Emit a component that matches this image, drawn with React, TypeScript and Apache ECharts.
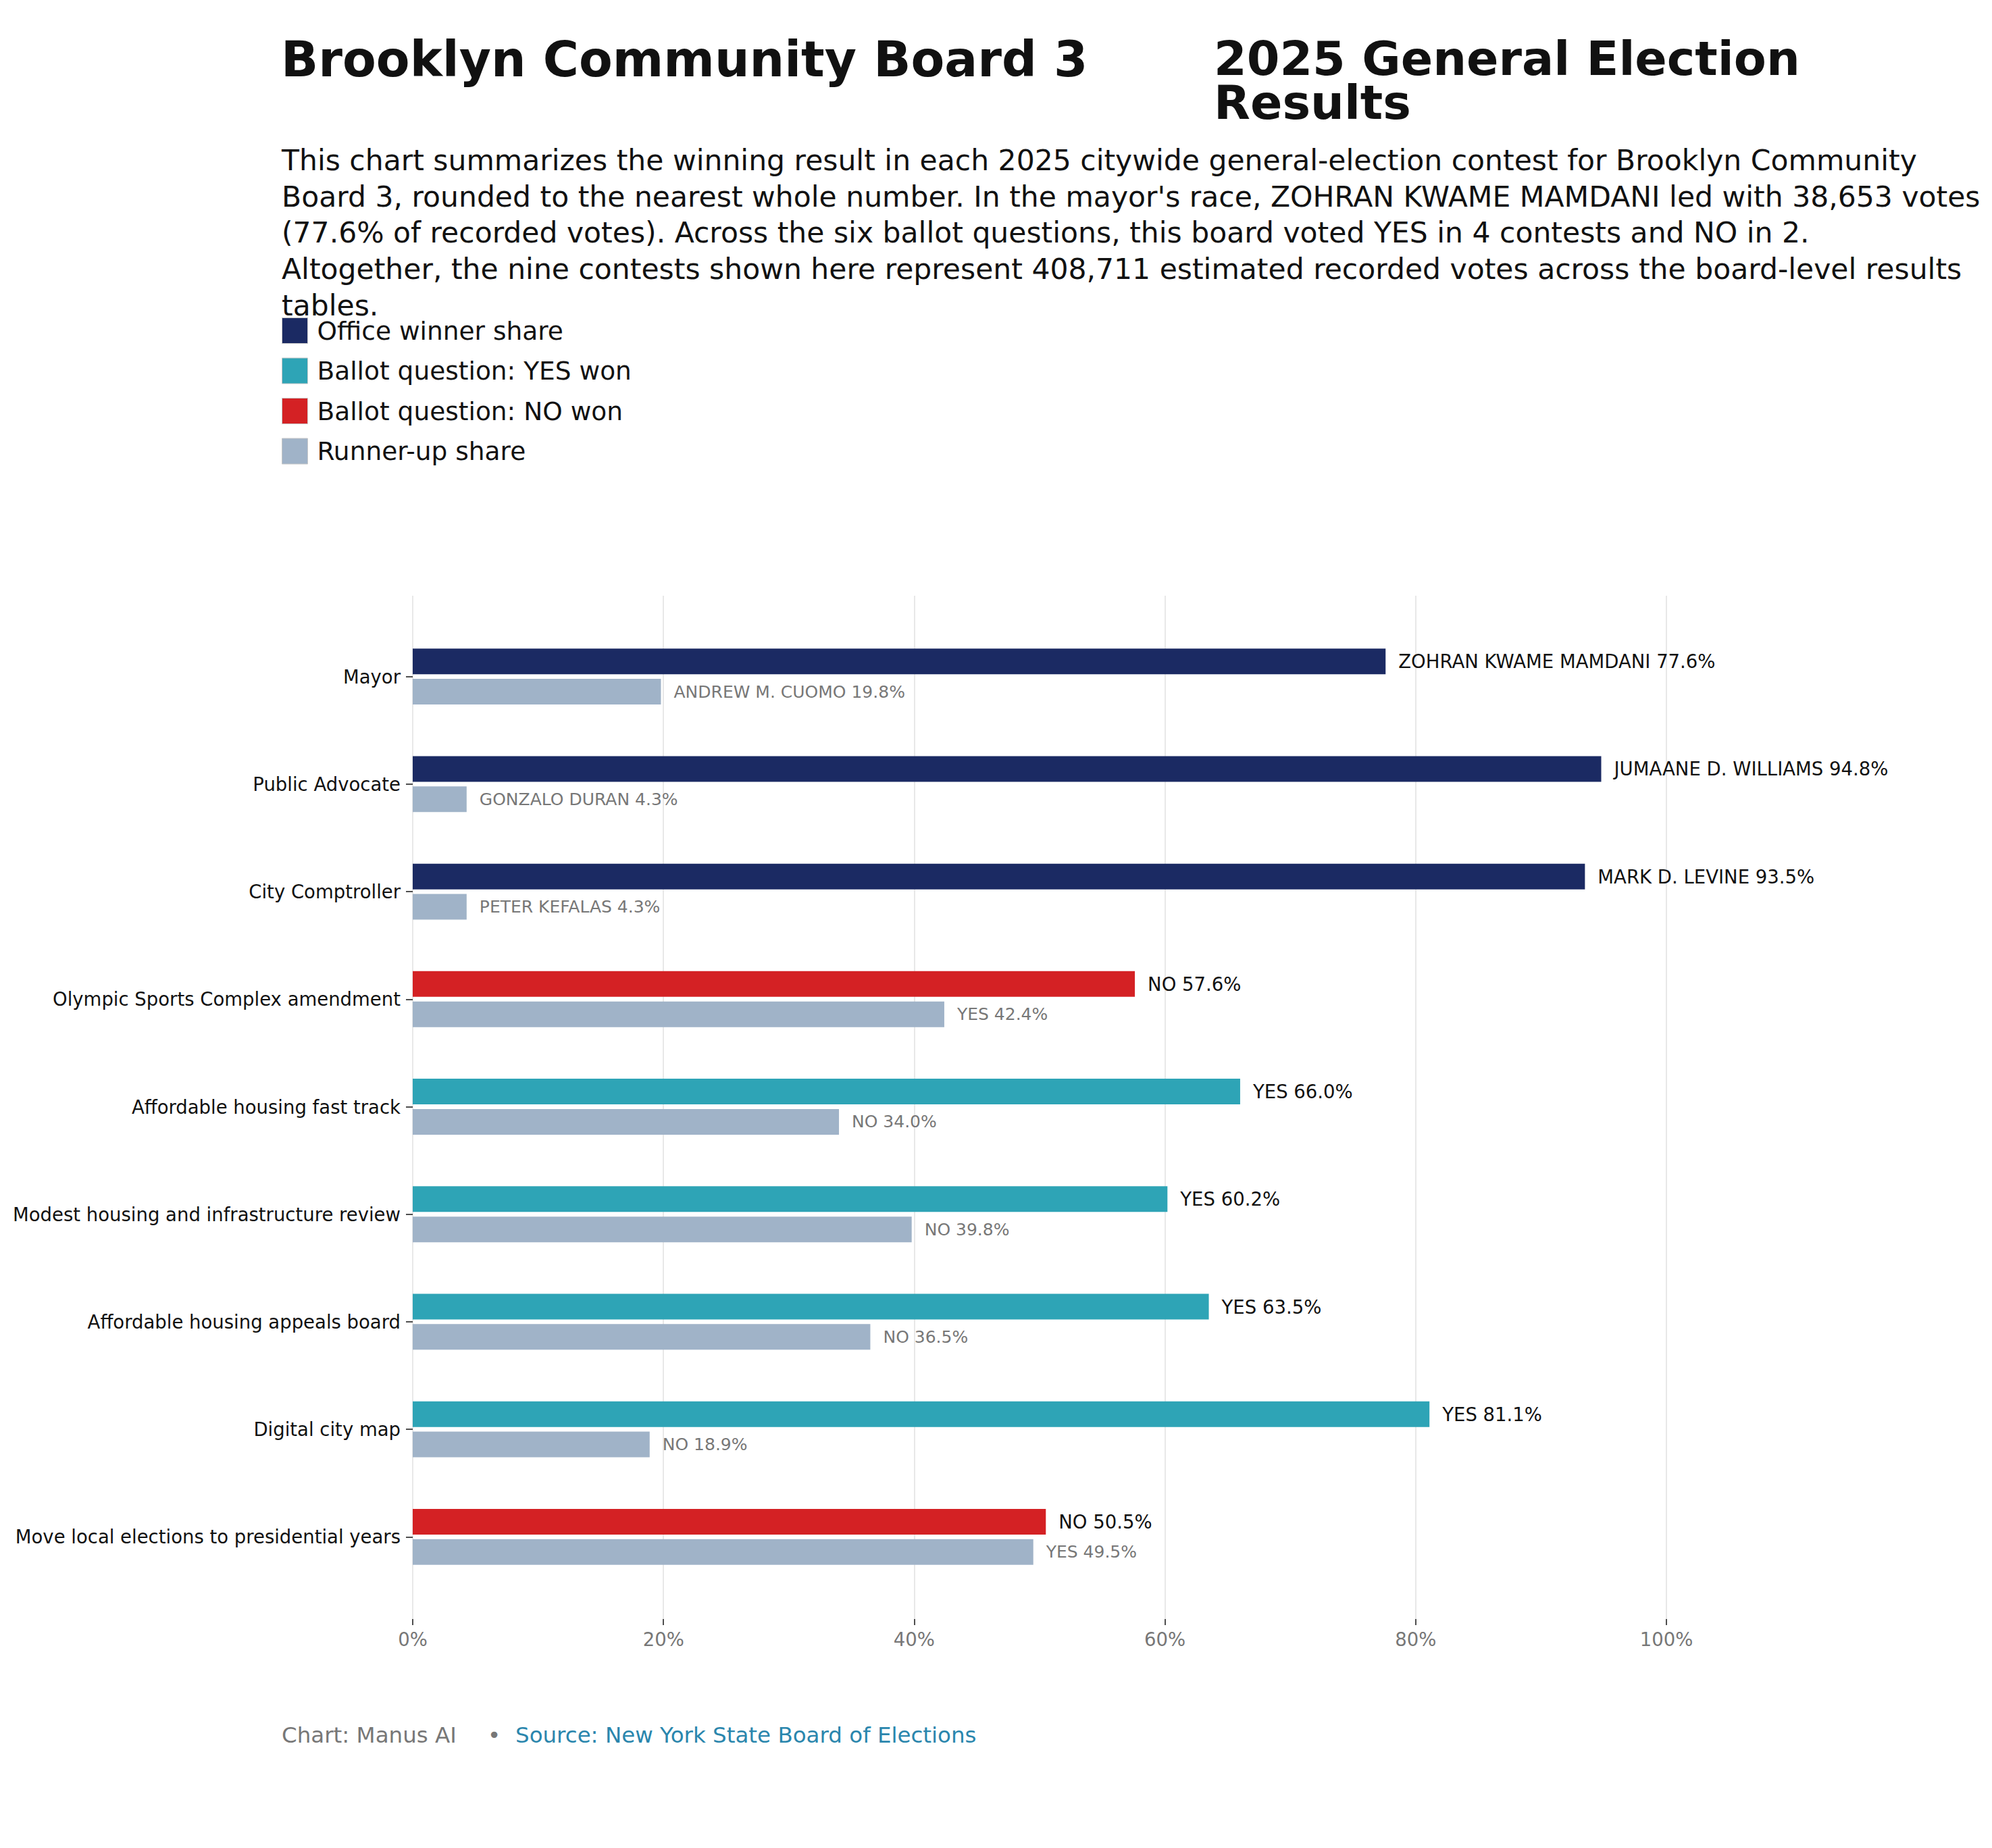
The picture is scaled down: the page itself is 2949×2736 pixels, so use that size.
import { useEffect, useRef } from 'react'
import * as echarts from 'echarts'

const FONT = 'DejaVu Sans'

const contests = [
  'Mayor',
  'Public Advocate',
  'City Comptroller',
  'Olympic Sports Complex amendment',
  'Affordable housing fast track',
  'Modest housing and infrastructure review',
  'Affordable housing appeals board',
  'Digital city map',
  'Move local elections to presidential years',
]
// office = office winner, yes / no = which ballot answer won
const winnerKind = ['office', 'office', 'office', 'no', 'yes', 'yes', 'yes', 'yes', 'no']
const winnerNames = ['ZOHRAN KWAME MAMDANI', 'JUMAANE D. WILLIAMS', 'MARK D. LEVINE', 'NO', 'YES', 'YES', 'YES', 'YES', 'NO']
const winnerShare = [77.6, 94.8, 93.5, 57.6, 66.0, 60.2, 63.5, 81.1, 50.5]
const runnerNames = ['ANDREW M. CUOMO', 'GONZALO DURAN', 'PETER KEFALAS', 'YES', 'NO', 'NO', 'NO', 'NO', 'YES']
const runnerShare = [19.8, 4.3, 4.3, 42.4, 34.0, 39.8, 36.5, 18.9, 49.5]
const xTicks = [0, 20, 40, 60, 80, 100]

const legendNames = ['Office winner share', 'Ballot question: YES won', 'Ballot question: NO won', 'Runner-up share']
const COLORS = { office: '#1b2a63', yes: '#2ea4b6', no: '#d42124', runner: '#a0b3c8' }

const titleLeft = 'Brooklyn Community Board 3'
const titleRight = ['2025 General Election', 'Results']
const subtitleLines = [
  'This chart summarizes the winning result in each 2025 citywide general-election contest for Brooklyn Community',
  "Board 3, rounded to the nearest whole number. In the mayor's race, ZOHRAN KWAME MAMDANI led with 38,653 votes",
  '(77.6% of recorded votes). Across the six ballot questions, this board voted YES in 4 contests and NO in 2.',
  'Altogether, the nine contests shown here represent 408,711 estimated recorded votes across the board-level results',
  'tables.',
]

const W = 2949
const H = 2736
const PLOT_LEFT = 611
const PLOT_WIDTH = 1856

// text placed by its baseline
function textAt(text: string, x: number, baseline: number, size: number, color: string, weight = 'normal') {
  return {
    type: 'text',
    x,
    y: baseline - size * 0.36,
    style: {
      text,
      fill: color,
      font: `${weight} ${size}px "${FONT}"`,
      lineHeight: size * 0.92,
      align: 'left',
      verticalAlign: 'middle',
    },
  }
}

function winnerSeries(kind: string, name: string) {
  return {
    name,
    type: 'bar',
    stack: 'winner',
    xAxisIndex: 1,
    yAxisIndex: 1,
    barWidth: 38,
    barGap: '18%',
    itemStyle: { color: COLORS[kind as keyof typeof COLORS] },
    data: winnerShare.map((v, i) => (winnerKind[i] === kind ? v : '-')),
    label: {
      show: true,
      position: 'right',
      distance: 19,
      fontFamily: FONT,
      fontSize: 27.5,
      color: '#111111',
      formatter: (p: any) => `${winnerNames[p.dataIndex]} ${winnerShare[p.dataIndex].toFixed(1)}%`,
    },
  }
}

export default function App() {
  const ref = useRef<HTMLDivElement>(null)

  useEffect(() => {
    if (!ref.current) {
      return
    }
    const chart = echarts.init(ref.current, undefined, { renderer: 'svg' })

    const graphics: any[] = [
      textAt(titleLeft, 416, 114, 72.5, '#111111', 'bold'),
      textAt(titleRight[0], 1797, 112, 70, '#111111', 'bold'),
      textAt(titleRight[1], 1797, 177, 70, '#111111', 'bold'),
      ...subtitleLines.map((l, i) => textAt(l, 417, 253 + i * 53.6, 42.5, '#111111')),
      textAt('Chart: Manus AI', 417, 2581, 32.5, '#777777'),
      textAt('•', 722, 2581, 32.5, '#777777'),
      textAt('Source: New York State Board of Elections', 763, 2581, 32.5, '#2a86ad'),
    ]

    chart.setOption({
      animation: false,
      backgroundColor: '#ffffff',
      textStyle: { fontFamily: FONT },
      legend: {
        orient: 'vertical',
        left: 417,
        top: 470,
        padding: 0,
        itemWidth: 38,
        itemHeight: 38,
        itemGap: 20.5,
        selectedMode: false,
        icon: 'rect',
        data: legendNames,
        itemStyle: { borderColor: '#c8c8c8', borderWidth: 1 },
        textStyle: { fontFamily: FONT, fontSize: 37.5, color: '#111111', padding: [0, 0, 0, 9] },
      },
      grid: [
        // grid lines and the percent axis span a little beyond the bars
        { left: PLOT_LEFT, width: PLOT_WIDTH, top: 882, height: 1515 },
        { left: PLOT_LEFT, width: PLOT_WIDTH, top: 922, height: 1433 },
      ],
      xAxis: [
        {
          gridIndex: 0,
          type: 'value',
          min: xTicks[0],
          max: xTicks[xTicks.length - 1],
          interval: 20,
          axisLine: { show: false },
          axisTick: { show: true, length: 9, lineStyle: { color: '#222222', width: 1.6 } },
          axisLabel: {
            margin: 16,
            fontFamily: FONT,
            fontSize: 27.5,
            color: '#777777',
            formatter: (v: number) => `${v}%`,
          },
          splitLine: { show: true, lineStyle: { color: '#e8e8e8', width: 2 } },
        },
        {
          gridIndex: 1,
          type: 'value',
          min: 0,
          max: 100,
          show: false,
        },
      ],
      yAxis: [
        { gridIndex: 0, type: 'value', show: false },
        {
          gridIndex: 1,
          type: 'category',
          inverse: true,
          data: contests,
          axisLine: { show: false },
          axisTick: { show: true, alignWithLabel: true, length: 10, lineStyle: { color: '#222222', width: 1.6 } },
          axisLabel: { margin: 18, fontFamily: FONT, fontSize: 27.5, color: '#111111' },
          splitLine: { show: false },
        },
      ],
      series: [
        winnerSeries('office', legendNames[0]),
        winnerSeries('yes', legendNames[1]),
        winnerSeries('no', legendNames[2]),
        {
          name: legendNames[3],
          type: 'bar',
          xAxisIndex: 1,
          yAxisIndex: 1,
          barWidth: 38,
          barGap: '18%',
          itemStyle: { color: COLORS.runner },
          data: runnerShare,
          label: {
            show: true,
            position: 'right',
            distance: 19,
            fontFamily: FONT,
            fontSize: 25,
            color: '#777777',
            formatter: (p: any) => `${runnerNames[p.dataIndex]} ${runnerShare[p.dataIndex].toFixed(1)}%`,
          },
        },
      ],
      graphic: graphics,
    })

    return () => {
      chart.dispose()
    }
  }, [])

  return (
    <div
      ref={ref}
      role="img"
      aria-label="Brooklyn Community Board 3 election results chart"
      style={{ position: 'absolute', left: 0, top: 0, width: W, height: H }}
    />
  )
}
